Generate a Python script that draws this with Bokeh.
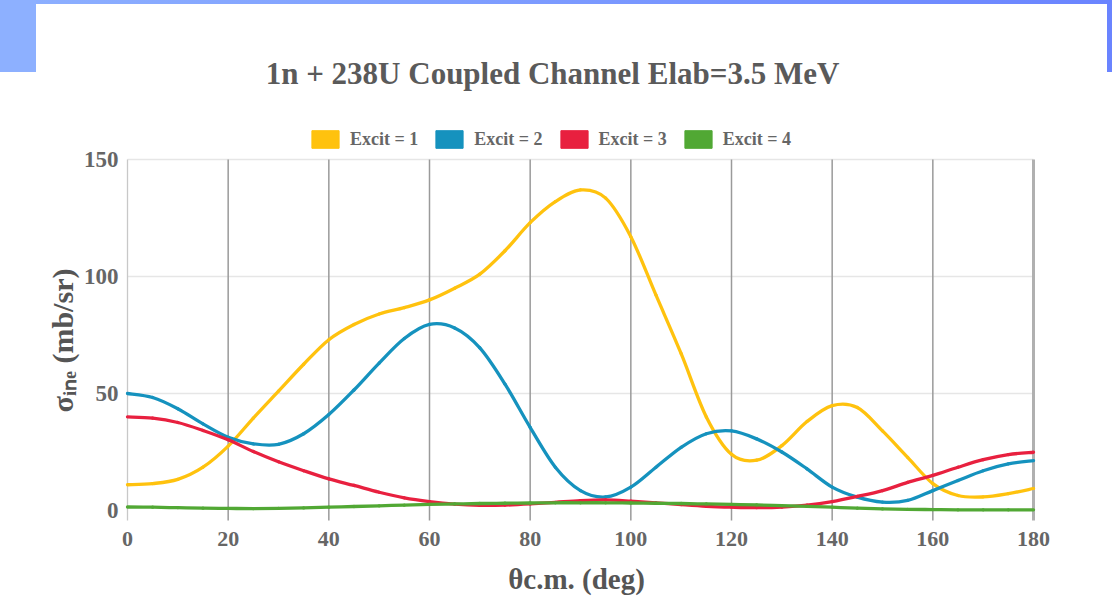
import math
from bokeh.plotting import figure
from bokeh.models import (Range1d, Legend, LegendItem, Label,
                          InlineStyleSheet, ColumnDataSource)
from bokeh.core.properties import value
from bokeh.embed import file_html
from bokeh.resources import INLINE

# ---------------- data ----------------
angles = [0, 5, 10, 15, 20, 25, 30, 35, 40, 45, 50, 55, 60, 65, 70, 75, 80, 85, 90,
          95, 100, 105, 110, 115, 120, 125, 130, 135, 140, 145, 150, 155, 160, 165,
          170, 175, 180]
excit1 = [11, 11.5, 13.3, 18.5, 27.5, 39.5, 51, 62.5, 73, 79.5, 84, 86.7, 90, 95,
          101, 111, 123, 132, 137, 133.5, 117, 92, 67, 40, 24, 21.5, 27.7, 38,
          44.8, 44, 34, 22.7, 11.5, 6.4, 5.8, 7.2, 9.4]
excit2 = [50, 48.3, 43.5, 37, 31.3, 28.5, 28.3, 32.8, 41, 51.5, 63, 73.5, 79.5,
          78, 69.5, 54, 35.5, 18.5, 8.5, 5.8, 10, 18.5, 27, 32.8, 34, 30.6, 25,
          17.8, 10, 5.7, 3.6, 4.3, 8.5, 12.8, 17, 19.9, 21.3]
excit3 = [40, 39.5, 37.6, 34.2, 30.2, 25.2, 20.8, 17, 13.5, 10.7, 7.8, 5.4, 3.8, 2.7,
          2.2, 2.3, 2.8, 3.5, 4.2, 4.5, 4, 3.3, 2.5, 1.8, 1.4, 1.2, 1.5, 2.3, 3.8,
          6, 8.5, 12, 15, 18.5, 21.7, 23.9, 24.9]
excit4 = [1.5, 1.4, 1.2, 1.0, 0.9, 0.8, 0.9, 1.1, 1.4, 1.7, 2.0, 2.3, 2.6, 2.8, 3.0,
          3.1, 3.2, 3.3, 3.3, 3.3, 3.2, 3.1, 3.0, 2.8, 2.6, 2.4, 2.1, 1.8, 1.4, 1.0,
          0.7, 0.5, 0.4, 0.3, 0.3, 0.3, 0.3]
series_names = ["Excit = 1", "Excit = 2", "Excit = 3", "Excit = 4"]
series_colors = ["#FFC20E", "#1592BE", "#E8203F", "#51A834"]
x_ticks = [0, 20, 40, 60, 80, 100, 120, 140, 160, 180]
y_ticks = [0, 50, 100, 150]
title_text = "1n + 238U Coupled Channel Elab=3.5 MeV"
x_label = "θc.m. (deg)"
y_label = "σᵢₙₑ (mb/sr)"

FONT = "Liberation Serif"

# ---------------- layout: the plotting frame covers the whole canvas ----------------
W, H = 1112, 613
PX_LEFT, PX_RIGHT = 127, 1033       # screen x of first / last x tick
PX_TOP, PX_ZERO = 159, 510          # screen y of top y tick / of zero
sx = (PX_RIGHT - PX_LEFT) / (x_ticks[-1] - x_ticks[0])
sy = (PX_ZERO - PX_TOP) / (y_ticks[-1] - y_ticks[0])
X0 = x_ticks[0] - PX_LEFT / sx
X1 = x_ticks[-1] + (W - PX_RIGHT) / sx
Y0 = y_ticks[0] - (H - PX_ZERO) / sy
Y1 = y_ticks[-1] + PX_TOP / sy
TICK_LEN = 10 / sy                  # tick marks below the zero line


def sy_up(screen_y):
    """screen y (from top) -> screen units used by annotations (from bottom)."""
    return H - screen_y


css = """
:host {
  background-color: white;
  background-image:
    linear-gradient(#8DB0FF, #8DB0FF),
    linear-gradient(#6A84FF, #6A84FF),
    linear-gradient(to right, #8DB0FF, #6A84FF);
  background-size: 36px 72px, 5px 72px, 100% 4px;
  background-position: left top, right top, left top;
  background-repeat: no-repeat;
}
"""

p = figure(width=W, height=H, output_backend="svg", toolbar_location=None,
           x_range=Range1d(X0, X1), y_range=Range1d(Y0, Y1),
           x_axis_location=None, y_axis_location=None,
           min_border=0)
p.title_location = None
p.stylesheets = [InlineStyleSheet(css=css)]
p.outline_line_color = None
p.background_fill_color = None
p.border_fill_color = None
p.xgrid.grid_line_color = None
p.ygrid.grid_line_color = None

# grid lines
hy = y_ticks[1:]
p.segment(x0=[x_ticks[0]] * len(hy), y0=hy, x1=[x_ticks[-1]] * len(hy), y1=hy,
          line_color="#e6e6e6", line_width=1.5)
inner = x_ticks[1:-1]
p.segment(x0=inner, y0=[-TICK_LEN] * len(inner), x1=inner,
          y1=[y_ticks[-1]] * len(inner), line_color="#9a9a9a", line_width=1.5)
p.segment(x0=[x_ticks[0]], y0=[-TICK_LEN], x1=[x_ticks[0]], y1=[y_ticks[-1]],
          line_color="#c8c8c8", line_width=1.3)
p.segment(x0=[x_ticks[-1]], y0=[-TICK_LEN], x1=[x_ticks[-1]], y1=[y_ticks[-1]],
          line_color="#b0b0b0", line_width=3)

# tick labels
p.text(x=x_ticks, y=[y_ticks[0]] * len(x_ticks), text=[str(t) for t in x_ticks],
       y_offset=28, text_align="center", text_baseline="middle",
       text_font=value(FONT), text_font_style="bold", text_font_size="22px",
       text_color="#666666")
p.text(x=[x_ticks[0]] * len(y_ticks), y=y_ticks, text=[str(t) for t in y_ticks],
       x_offset=-9, text_align="right", text_baseline="middle",
       text_font=value(FONT), text_font_style="bold", text_font_size="23px",
       text_color="#666666")

# axis titles
p.add_layout(Label(x=576, y=sy_up(578), x_units="screen", y_units="screen",
                   text=x_label, text_align="center", text_baseline="middle",
                   text_font=FONT, text_font_style="bold", text_font_size="29px",
                   text_color="#555555"))
p.add_layout(Label(x=62, y=sy_up(340), x_units="screen", y_units="screen",
                   text=y_label, angle=math.pi / 2, text_align="center",
                   text_baseline="middle", text_font=FONT, text_font_style="bold",
                   text_font_size="30px", text_color="#555555"))


def smooth_segments(xs, ys):
    """Catmull-Rom curve through the read points, as cubic Bezier segments."""
    n = len(xs)
    d = dict(x0=[], y0=[], x1=[], y1=[], cx0=[], cy0=[], cx1=[], cy1=[])
    for i in range(n - 1):
        i0, i3 = max(i - 1, 0), min(i + 2, n - 1)
        d["x0"].append(xs[i]); d["y0"].append(ys[i])
        d["x1"].append(xs[i + 1]); d["y1"].append(ys[i + 1])
        d["cx0"].append(xs[i] + (xs[i + 1] - xs[i0]) / 6)
        d["cy0"].append(ys[i] + (ys[i + 1] - ys[i0]) / 6)
        d["cx1"].append(xs[i + 1] - (xs[i3] - xs[i]) / 6)
        d["cy1"].append(ys[i + 1] - (ys[i3] - ys[i]) / 6)
    return ColumnDataSource(d)


for ys, c in zip([excit1, excit2, excit3, excit4], series_colors):
    p.bezier(x0="x0", y0="y0", x1="x1", y1="y1", cx0="cx0", cy0="cy0",
             cx1="cx1", cy1="cy1", source=smooth_segments(angles, ys),
             line_color=c, line_width=3.3, line_cap="round")

# legend with box swatches (proxy renderers hold no drawable point)
nan = float("nan")
items = []
for name, c in zip(series_names, series_colors):
    r = p.quad(left=[nan], right=[nan], top=[nan], bottom=[nan],
               fill_color=c, line_color=c)
    items.append(LegendItem(label=name, renderers=[r]))
leg = Legend(items=items, orientation="horizontal",
             location=(308, sy_up(150)),
             glyph_width=34, glyph_height=22, label_standoff=8, spacing=14,
             padding=0, margin=0, border_line_color=None, background_fill_alpha=0,
             label_text_font=FONT, label_text_font_style="bold",
             label_text_font_size="18px", label_text_color="#666666",
             label_height=22)
p.add_layout(leg, "center")

# title
p.add_layout(Label(x=552, y=sy_up(73), x_units="screen", y_units="screen",
                   text=title_text, text_align="center", text_baseline="middle",
                   text_font=FONT, text_font_style="bold", text_font_size="31px",
                   text_color="#5a5a5a"))

open("out.html", "w").write(file_html(p, INLINE))
